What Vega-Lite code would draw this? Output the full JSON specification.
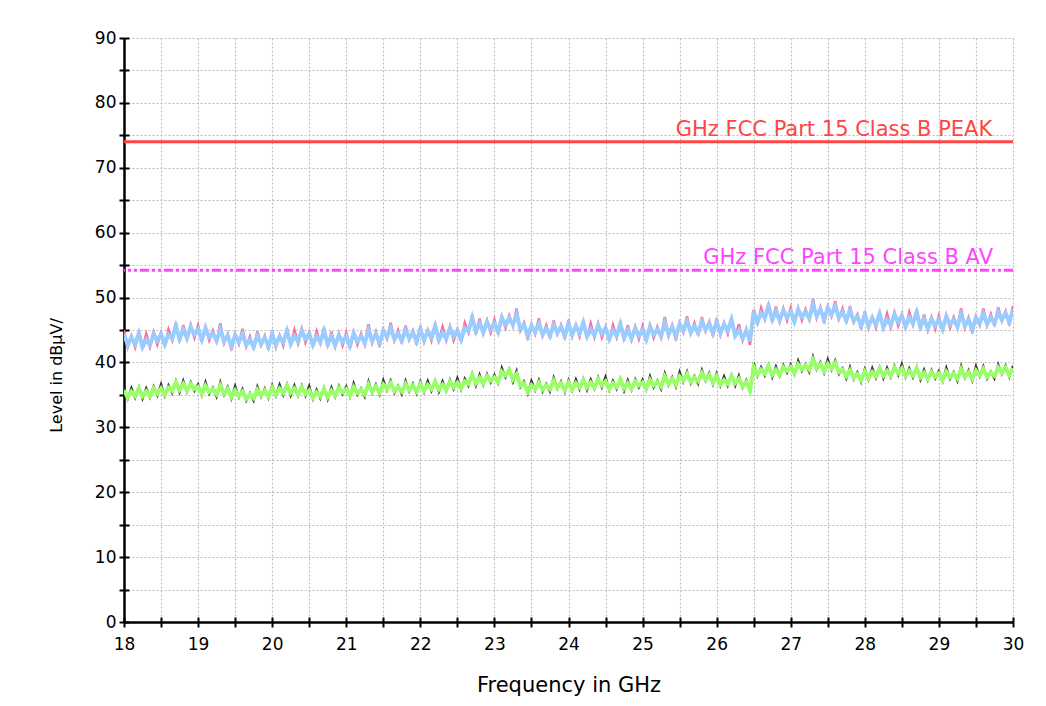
{
  "$schema": "https://vega.github.io/schema/vega-lite/v6.json",
  "width": 889,
  "height": 584,
  "autosize": {"type": "none"},
  "padding": {"left": 124, "top": 38, "right": 33, "bottom": 84},
  "background": "white",
  "config": {
    "view": {"stroke": null},
    "font": "DejaVu Sans"
  },
  "data": {"values": [
    {"f":18.00,"pk":45.0,"b":44.4,"dk":36.1,"g":35.7},
    {"f":18.05,"pk":42.35,"b":42.65,"dk":34.4,"g":34.6},
    {"f":18.10,"pk":44.1,"b":43.9,"dk":36.1,"g":35.5},
    {"f":18.15,"pk":42.35,"b":42.85,"dk":34.55,"g":34.85},
    {"f":18.20,"pk":44.9,"b":44.5,"dk":36.2,"g":36.0},
    {"f":18.25,"pk":42.15,"b":42.35,"dk":34.4,"g":34.8},
    {"f":18.30,"pk":44.4,"b":43.5,"dk":36.05,"g":35.55},
    {"f":18.35,"pk":42.4,"b":42.7,"dk":34.6,"g":34.8},
    {"f":18.40,"pk":44.7,"b":44.4,"dk":36.3,"g":36.0},
    {"f":18.45,"pk":42.75,"b":43.35,"dk":34.9,"g":35.2},
    {"f":18.50,"pk":44.55,"b":44.35,"dk":36.7,"g":36.0},
    {"f":18.55,"pk":42.5,"b":42.8,"dk":34.85,"g":35.05},
    {"f":18.60,"pk":45.1,"b":44.3,"dk":36.5,"g":36.1},
    {"f":18.65,"pk":43.45,"b":43.65,"dk":35.3,"g":35.6},
    {"f":18.70,"pk":46.1,"b":45.6,"dk":37.15,"g":36.95},
    {"f":18.75,"pk":43.2,"b":43.6,"dk":35.4,"g":35.8},
    {"f":18.80,"pk":45.75,"b":45.05,"dk":37.2,"g":36.7},
    {"f":18.85,"pk":43.6,"b":43.8,"dk":35.5,"g":35.7},
    {"f":18.90,"pk":45.8,"b":45.5,"dk":37.0,"g":36.7},
    {"f":18.95,"pk":43.8,"b":44.3,"dk":35.6,"g":35.9},
    {"f":19.00,"pk":45.7,"b":45.1,"dk":36.65,"g":36.25},
    {"f":19.05,"pk":43.2,"b":43.5,"dk":34.95,"g":35.15},
    {"f":19.10,"pk":45.5,"b":45.3,"dk":37.0,"g":36.4},
    {"f":19.15,"pk":43.4,"b":43.9,"dk":35.15,"g":35.45},
    {"f":19.20,"pk":44.9,"b":44.5,"dk":36.1,"g":35.9},
    {"f":19.25,"pk":43.1,"b":43.3,"dk":34.7,"g":35.1},
    {"f":19.30,"pk":46.05,"b":45.15,"dk":36.95,"g":36.45},
    {"f":19.35,"pk":42.95,"b":43.25,"dk":35.0,"g":35.2},
    {"f":19.40,"pk":44.4,"b":44.1,"dk":36.2,"g":35.9},
    {"f":19.45,"pk":41.9,"b":42.5,"dk":34.4,"g":34.7},
    {"f":19.50,"pk":44.4,"b":44.2,"dk":36.4,"g":35.7},
    {"f":19.55,"pk":42.85,"b":43.15,"dk":34.6,"g":34.8},
    {"f":19.60,"pk":45.2,"b":44.4,"dk":35.9,"g":35.5},
    {"f":19.65,"pk":42.45,"b":42.65,"dk":34.1,"g":34.4},
    {"f":19.70,"pk":44.0,"b":43.5,"dk":35.3,"g":35.1},
    {"f":19.75,"pk":42.0,"b":42.4,"dk":34.1,"g":34.5},
    {"f":19.80,"pk":44.8,"b":44.1,"dk":36.3,"g":35.8},
    {"f":19.85,"pk":42.65,"b":42.85,"dk":34.7,"g":34.9},
    {"f":19.90,"pk":44.1,"b":43.8,"dk":36.0,"g":35.7},
    {"f":19.95,"pk":41.95,"b":42.45,"dk":34.5,"g":34.8},
    {"f":20.00,"pk":44.9,"b":44.3,"dk":36.5,"g":36.1},
    {"f":20.05,"pk":42.35,"b":42.65,"dk":34.85,"g":35.05},
    {"f":20.10,"pk":44.2,"b":44.0,"dk":36.6,"g":36.0},
    {"f":20.15,"pk":42.6,"b":43.1,"dk":35.0,"g":35.3},
    {"f":20.20,"pk":45.25,"b":44.85,"dk":36.65,"g":36.45},
    {"f":20.25,"pk":42.65,"b":42.85,"dk":34.9,"g":35.3},
    {"f":20.30,"pk":45.0,"b":44.1,"dk":36.5,"g":36.0},
    {"f":20.35,"pk":42.95,"b":43.25,"dk":34.9,"g":35.1},
    {"f":20.40,"pk":45.2,"b":44.9,"dk":36.45,"g":36.15},
    {"f":20.45,"pk":43.05,"b":43.65,"dk":34.85,"g":35.15},
    {"f":20.50,"pk":44.65,"b":44.45,"dk":36.4,"g":35.7},
    {"f":20.55,"pk":42.4,"b":42.7,"dk":34.35,"g":34.55},
    {"f":20.60,"pk":44.8,"b":44.0,"dk":35.8,"g":35.4},
    {"f":20.65,"pk":42.95,"b":43.15,"dk":34.45,"g":34.75},
    {"f":20.70,"pk":45.4,"b":44.9,"dk":36.1,"g":35.9},
    {"f":20.75,"pk":42.4,"b":42.8,"dk":34.3,"g":34.7},
    {"f":20.80,"pk":44.75,"b":44.05,"dk":36.15,"g":35.65},
    {"f":20.85,"pk":42.45,"b":42.65,"dk":34.7,"g":34.9},
    {"f":20.90,"pk":44.5,"b":44.2,"dk":36.4,"g":36.1},
    {"f":20.95,"pk":42.6,"b":43.1,"dk":35.1,"g":35.4},
    {"f":21.00,"pk":44.6,"b":44.0,"dk":36.3,"g":35.9},
    {"f":21.05,"pk":42.25,"b":42.55,"dk":34.7,"g":34.9},
    {"f":21.10,"pk":44.7,"b":44.5,"dk":36.8,"g":36.2},
    {"f":21.15,"pk":42.75,"b":43.25,"dk":35.0,"g":35.3},
    {"f":21.20,"pk":44.4,"b":44.0,"dk":36.0,"g":35.8},
    {"f":21.25,"pk":42.75,"b":42.95,"dk":34.7,"g":35.1},
    {"f":21.30,"pk":45.9,"b":45.0,"dk":37.1,"g":36.6},
    {"f":21.35,"pk":43.0,"b":43.3,"dk":35.3,"g":35.5},
    {"f":21.40,"pk":44.7,"b":44.4,"dk":36.6,"g":36.3},
    {"f":21.45,"pk":42.4,"b":43.0,"dk":35.05,"g":35.35},
    {"f":21.50,"pk":45.05,"b":44.85,"dk":37.3,"g":36.6},
    {"f":21.55,"pk":43.65,"b":43.95,"dk":35.7,"g":35.9},
    {"f":21.60,"pk":46.1,"b":45.3,"dk":37.2,"g":36.8},
    {"f":21.65,"pk":43.4,"b":43.6,"dk":35.3,"g":35.6},
    {"f":21.70,"pk":44.95,"b":44.45,"dk":36.4,"g":36.2},
    {"f":21.75,"pk":42.95,"b":43.35,"dk":35.1,"g":35.5},
    {"f":21.80,"pk":45.7,"b":45.0,"dk":37.2,"g":36.7},
    {"f":21.85,"pk":43.5,"b":43.7,"dk":35.55,"g":35.75},
    {"f":21.90,"pk":44.9,"b":44.6,"dk":36.75,"g":36.45},
    {"f":21.95,"pk":42.75,"b":43.25,"dk":35.2,"g":35.5},
    {"f":22.00,"pk":45.7,"b":45.1,"dk":37.1,"g":36.7},
    {"f":22.05,"pk":43.15,"b":43.45,"dk":35.45,"g":35.65},
    {"f":22.10,"pk":45.0,"b":44.8,"dk":37.15,"g":36.55},
    {"f":22.15,"pk":43.35,"b":43.85,"dk":35.6,"g":35.9},
    {"f":22.20,"pk":46.0,"b":45.6,"dk":37.2,"g":37.0},
    {"f":22.25,"pk":43.25,"b":43.45,"dk":35.45,"g":35.85},
    {"f":22.30,"pk":45.5,"b":44.6,"dk":37.1,"g":36.6},
    {"f":22.35,"pk":43.4,"b":43.7,"dk":35.6,"g":35.8},
    {"f":22.40,"pk":45.55,"b":45.25,"dk":37.35,"g":37.05},
    {"f":22.45,"pk":43.4,"b":44.0,"dk":35.9,"g":36.2},
    {"f":22.50,"pk":45.1,"b":44.9,"dk":37.6,"g":36.9},
    {"f":22.55,"pk":43.2,"b":43.5,"dk":35.8,"g":36.0},
    {"f":22.60,"pk":46.1,"b":45.3,"dk":37.5,"g":37.1},
    {"f":22.65,"pk":44.6,"b":44.8,"dk":36.4,"g":36.7},
    {"f":22.70,"pk":47.4,"b":46.9,"dk":38.3,"g":38.1},
    {"f":22.75,"pk":44.4,"b":44.8,"dk":36.4,"g":36.8},
    {"f":22.80,"pk":46.75,"b":46.05,"dk":38.15,"g":37.65},
    {"f":22.85,"pk":44.45,"b":44.65,"dk":36.55,"g":36.75},
    {"f":22.90,"pk":46.5,"b":46.2,"dk":38.2,"g":37.9},
    {"f":22.95,"pk":44.6,"b":45.1,"dk":36.9,"g":37.2},
    {"f":23.00,"pk":46.6,"b":46.0,"dk":38.1,"g":37.7},
    {"f":23.05,"pk":44.4,"b":44.7,"dk":36.8,"g":37.0},
    {"f":23.10,"pk":47.1,"b":46.9,"dk":39.2,"g":38.6},
    {"f":23.15,"pk":45.3,"b":45.8,"dk":37.7,"g":38.0},
    {"f":23.20,"pk":47.2,"b":46.8,"dk":39.0,"g":38.8},
    {"f":23.25,"pk":45.6,"b":45.8,"dk":37.0,"g":37.4},
    {"f":23.30,"pk":48.3,"b":47.4,"dk":38.7,"g":38.2},
    {"f":23.35,"pk":44.9,"b":45.2,"dk":36.2,"g":36.4},
    {"f":23.40,"pk":46.1,"b":45.8,"dk":37.1,"g":36.8},
    {"f":23.45,"pk":43.5,"b":44.1,"dk":35.2,"g":35.5},
    {"f":23.50,"pk":45.9,"b":45.7,"dk":37.2,"g":36.5},
    {"f":23.55,"pk":44.4,"b":44.7,"dk":35.7,"g":35.9},
    {"f":23.60,"pk":46.8,"b":46.0,"dk":37.3,"g":36.9},
    {"f":23.65,"pk":44.1,"b":44.3,"dk":35.5,"g":35.8},
    {"f":23.70,"pk":45.7,"b":45.2,"dk":36.7,"g":36.5},
    {"f":23.75,"pk":43.7,"b":44.1,"dk":35.5,"g":35.9},
    {"f":23.80,"pk":46.5,"b":45.8,"dk":37.7,"g":37.2},
    {"f":23.85,"pk":44.35,"b":44.55,"dk":35.95,"g":36.15},
    {"f":23.90,"pk":45.8,"b":45.5,"dk":37.1,"g":36.8},
    {"f":23.95,"pk":43.6,"b":44.1,"dk":35.45,"g":35.75},
    {"f":24.00,"pk":46.55,"b":45.95,"dk":37.3,"g":36.9},
    {"f":24.05,"pk":44.0,"b":44.3,"dk":35.65,"g":35.85},
    {"f":24.10,"pk":45.8,"b":45.6,"dk":37.4,"g":36.8},
    {"f":24.15,"pk":44.0,"b":44.5,"dk":35.85,"g":36.15},
    {"f":24.20,"pk":46.55,"b":46.15,"dk":37.5,"g":37.3},
    {"f":24.25,"pk":43.8,"b":44.0,"dk":35.75,"g":36.15},
    {"f":24.30,"pk":46.0,"b":45.1,"dk":37.4,"g":36.9},
    {"f":24.35,"pk":43.85,"b":44.15,"dk":35.95,"g":36.15},
    {"f":24.40,"pk":46.0,"b":45.7,"dk":37.7,"g":37.4},
    {"f":24.45,"pk":43.85,"b":44.45,"dk":36.15,"g":36.45},
    {"f":24.50,"pk":45.5,"b":45.3,"dk":37.8,"g":37.1},
    {"f":24.55,"pk":43.3,"b":43.6,"dk":35.75,"g":35.95},
    {"f":24.60,"pk":45.75,"b":44.95,"dk":37.2,"g":36.8},
    {"f":24.65,"pk":43.9,"b":44.1,"dk":35.9,"g":36.2},
    {"f":24.70,"pk":46.4,"b":45.9,"dk":37.55,"g":37.35},
    {"f":24.75,"pk":43.4,"b":43.8,"dk":35.6,"g":36.0},
    {"f":24.80,"pk":45.75,"b":45.05,"dk":37.3,"g":36.8},
    {"f":24.85,"pk":43.45,"b":43.65,"dk":35.75,"g":35.95},
    {"f":24.90,"pk":45.5,"b":45.2,"dk":37.4,"g":37.1},
    {"f":24.95,"pk":43.6,"b":44.1,"dk":36.15,"g":36.45},
    {"f":25.00,"pk":45.6,"b":45.0,"dk":37.35,"g":36.95},
    {"f":25.05,"pk":43.25,"b":43.55,"dk":35.8,"g":36.0},
    {"f":25.10,"pk":45.75,"b":45.55,"dk":37.9,"g":37.3},
    {"f":25.15,"pk":43.8,"b":44.3,"dk":36.15,"g":36.45},
    {"f":25.20,"pk":45.5,"b":45.1,"dk":37.2,"g":37.0},
    {"f":25.25,"pk":43.85,"b":44.05,"dk":35.9,"g":36.3},
    {"f":25.30,"pk":47.0,"b":46.1,"dk":38.3,"g":37.8},
    {"f":25.35,"pk":44.05,"b":44.35,"dk":36.5,"g":36.7},
    {"f":25.40,"pk":45.75,"b":45.45,"dk":37.75,"g":37.45},
    {"f":25.45,"pk":43.4,"b":44.0,"dk":36.25,"g":36.55},
    {"f":25.50,"pk":46.1,"b":45.9,"dk":38.55,"g":37.85},
    {"f":25.55,"pk":44.65,"b":44.95,"dk":37.0,"g":37.2},
    {"f":25.60,"pk":47.1,"b":46.3,"dk":38.6,"g":38.2},
    {"f":25.65,"pk":44.45,"b":44.65,"dk":36.75,"g":37.05},
    {"f":25.70,"pk":46.1,"b":45.6,"dk":37.9,"g":37.7},
    {"f":25.75,"pk":44.15,"b":44.55,"dk":36.7,"g":37.1},
    {"f":25.80,"pk":47.0,"b":46.3,"dk":38.85,"g":38.35},
    {"f":25.85,"pk":44.85,"b":45.05,"dk":37.2,"g":37.4},
    {"f":25.90,"pk":46.3,"b":46.0,"dk":38.4,"g":38.1},
    {"f":25.95,"pk":44.0,"b":44.5,"dk":36.6,"g":36.9},
    {"f":26.00,"pk":46.8,"b":46.2,"dk":38.3,"g":37.9},
    {"f":26.05,"pk":44.25,"b":44.55,"dk":36.4,"g":36.6},
    {"f":26.10,"pk":46.1,"b":45.9,"dk":37.9,"g":37.3},
    {"f":26.15,"pk":44.4,"b":44.9,"dk":36.4,"g":36.7},
    {"f":26.20,"pk":47.0,"b":46.6,"dk":38.1,"g":37.9},
    {"f":26.25,"pk":43.9,"b":44.1,"dk":36.4,"g":36.8},
    {"f":26.30,"pk":45.9,"b":45.0,"dk":38.0,"g":37.5},
    {"f":26.35,"pk":43.4,"b":43.7,"dk":36.1,"g":36.3},
    {"f":26.40,"pk":45.2,"b":44.9,"dk":37.3,"g":37.0},
    {"f":26.45,"pk":42.7,"b":43.3,"dk":35.4,"g":35.7},
    {"f":26.50,"pk":48.1,"b":47.9,"dk":40.0,"g":39.3},
    {"f":26.55,"pk":45.9,"b":46.2,"dk":37.9,"g":38.1},
    {"f":26.60,"pk":48.4,"b":47.6,"dk":39.3,"g":38.9},
    {"f":26.65,"pk":46.65,"b":46.85,"dk":38.0,"g":38.3},
    {"f":26.70,"pk":49.15,"b":48.65,"dk":39.65,"g":39.45},
    {"f":26.75,"pk":46.2,"b":46.6,"dk":37.7,"g":38.1},
    {"f":26.80,"pk":48.6,"b":47.9,"dk":39.4,"g":38.9},
    {"f":26.85,"pk":46.3,"b":46.5,"dk":37.9,"g":38.1},
    {"f":26.90,"pk":48.35,"b":48.05,"dk":39.6,"g":39.3},
    {"f":26.95,"pk":46.45,"b":46.95,"dk":38.4,"g":38.7},
    {"f":27.00,"pk":48.4,"b":47.8,"dk":39.7,"g":39.3},
    {"f":27.05,"pk":46.0,"b":46.3,"dk":38.15,"g":38.35},
    {"f":27.10,"pk":48.4,"b":48.2,"dk":40.3,"g":39.7},
    {"f":27.15,"pk":46.5,"b":47.0,"dk":38.65,"g":38.95},
    {"f":27.20,"pk":48.2,"b":47.8,"dk":39.8,"g":39.6},
    {"f":27.25,"pk":46.6,"b":46.8,"dk":38.5,"g":38.9},
    {"f":27.30,"pk":49.8,"b":48.9,"dk":40.9,"g":40.4},
    {"f":27.35,"pk":46.85,"b":47.15,"dk":38.9,"g":39.1},
    {"f":27.40,"pk":48.5,"b":48.2,"dk":40.05,"g":39.75},
    {"f":27.45,"pk":46.05,"b":46.65,"dk":38.4,"g":38.7},
    {"f":27.50,"pk":48.6,"b":48.4,"dk":40.5,"g":39.8},
    {"f":27.55,"pk":47.1,"b":47.4,"dk":38.85,"g":39.05},
    {"f":27.60,"pk":49.45,"b":48.65,"dk":40.3,"g":39.9},
    {"f":27.65,"pk":46.7,"b":46.9,"dk":38.2,"g":38.5},
    {"f":27.70,"pk":48.3,"b":47.8,"dk":39.1,"g":38.9},
    {"f":27.75,"pk":46.1,"b":46.5,"dk":37.5,"g":37.9},
    {"f":27.80,"pk":48.7,"b":48.0,"dk":39.3,"g":38.8},
    {"f":27.85,"pk":46.2,"b":46.4,"dk":37.4,"g":37.6},
    {"f":27.90,"pk":47.4,"b":47.1,"dk":38.5,"g":38.2},
    {"f":27.95,"pk":45.1,"b":45.6,"dk":37.0,"g":37.3},
    {"f":28.00,"pk":47.9,"b":47.3,"dk":39.0,"g":38.6},
    {"f":28.05,"pk":45.3,"b":45.6,"dk":37.35,"g":37.55},
    {"f":28.10,"pk":47.05,"b":46.85,"dk":39.15,"g":38.55},
    {"f":28.15,"pk":45.35,"b":45.85,"dk":37.6,"g":37.9},
    {"f":28.20,"pk":47.9,"b":47.5,"dk":39.3,"g":39.1},
    {"f":28.25,"pk":45.2,"b":45.4,"dk":37.55,"g":37.95},
    {"f":28.30,"pk":47.5,"b":46.6,"dk":39.2,"g":38.7},
    {"f":28.35,"pk":45.45,"b":45.75,"dk":37.75,"g":37.95},
    {"f":28.40,"pk":47.7,"b":47.4,"dk":39.5,"g":39.2},
    {"f":28.45,"pk":45.65,"b":46.25,"dk":38.05,"g":38.35},
    {"f":28.50,"pk":47.4,"b":47.2,"dk":39.8,"g":39.1},
    {"f":28.55,"pk":45.2,"b":45.5,"dk":37.7,"g":37.9},
    {"f":28.60,"pk":47.7,"b":46.9,"dk":39.1,"g":38.7},
    {"f":28.65,"pk":45.8,"b":46.0,"dk":37.7,"g":38.0},
    {"f":28.70,"pk":48.2,"b":47.7,"dk":39.3,"g":39.1},
    {"f":28.75,"pk":45.1,"b":45.5,"dk":37.3,"g":37.7},
    {"f":28.80,"pk":47.4,"b":46.7,"dk":38.9,"g":38.4},
    {"f":28.85,"pk":45.0,"b":45.2,"dk":37.25,"g":37.45},
    {"f":28.90,"pk":47.0,"b":46.7,"dk":38.85,"g":38.55},
    {"f":28.95,"pk":45.15,"b":45.65,"dk":37.5,"g":37.8},
    {"f":29.00,"pk":47.2,"b":46.6,"dk":38.7,"g":38.3},
    {"f":29.05,"pk":44.85,"b":45.15,"dk":37.1,"g":37.3},
    {"f":29.10,"pk":47.3,"b":47.1,"dk":39.2,"g":38.6},
    {"f":29.15,"pk":45.35,"b":45.85,"dk":37.45,"g":37.75},
    {"f":29.20,"pk":47.0,"b":46.6,"dk":38.5,"g":38.3},
    {"f":29.25,"pk":45.3,"b":45.5,"dk":37.1,"g":37.5},
    {"f":29.30,"pk":48.35,"b":47.45,"dk":39.45,"g":38.95},
    {"f":29.35,"pk":45.35,"b":45.65,"dk":37.6,"g":37.8},
    {"f":29.40,"pk":46.9,"b":46.6,"dk":38.8,"g":38.5},
    {"f":29.45,"pk":44.5,"b":45.1,"dk":37.2,"g":37.5},
    {"f":29.50,"pk":47.1,"b":46.9,"dk":39.45,"g":38.75},
    {"f":29.55,"pk":45.75,"b":46.05,"dk":37.85,"g":38.05},
    {"f":29.60,"pk":48.3,"b":47.5,"dk":39.4,"g":39.0},
    {"f":29.65,"pk":45.7,"b":45.9,"dk":37.5,"g":37.8},
    {"f":29.70,"pk":47.45,"b":46.95,"dk":38.6,"g":38.4},
    {"f":29.75,"pk":45.6,"b":46.0,"dk":37.5,"g":37.9},
    {"f":29.80,"pk":48.5,"b":47.8,"dk":39.7,"g":39.2},
    {"f":29.85,"pk":46.4,"b":46.6,"dk":38.2,"g":38.4},
    {"f":29.90,"pk":47.9,"b":47.6,"dk":39.5,"g":39.2},
    {"f":29.95,"pk":45.75,"b":46.25,"dk":37.75,"g":38.05},
    {"f":30.00,"pk":48.7,"b":48.1,"dk":39.5,"g":39.1}
  ]},
  "resolve": {"axis": {"x": "independent", "y": "independent"}},
  "layer": [
    {
      "mark": {"type": "line", "color": "#ff6a9a", "strokeWidth": 2.5, "clip": true},
      "encoding": {
        "x": {
          "field": "f", "type": "quantitative",
          "scale": {"domain": [18, 30], "nice": false, "zero": false},
          "axis": {
            "orient": "bottom",
            "values": [18,18.5,19,19.5,20,20.5,21,21.5,22,22.5,23,23.5,24,24.5,25,25.5,26,26.5,27,27.5,28,28.5,29,29.5,30],
            "labelExpr": "datum.value % 1 === 0 ? format(datum.value, 'd') : ''",
            "labelFont": "DejaVu Sans", "labelFontSize": 17, "labelColor": "#000000",
            "labelPadding": 9, "labelFlush": false, "labelOverlap": false,
            "tickSize": 5, "tickWidth": 2, "tickColor": "#000000",
            "domainColor": "#000000", "domainWidth": 2.5,
            "grid": true, "gridDash": [2, 2], "gridColor": "#bdbdbd", "gridWidth": 1.2,
            "title": "Frequency in GHz",
            "titleFont": "DejaVu Sans", "titleFontSize": 21, "titleFontWeight": "normal",
            "titleColor": "#000000", "titlePadding": 22
          }
        },
        "y": {
          "field": "pk", "type": "quantitative",
          "scale": {"domain": [0, 90], "nice": false},
          "axis": {
            "orient": "left",
            "values": [0,5,10,15,20,25,30,35,40,45,50,55,60,65,70,75,80,85,90],
            "labelExpr": "datum.value % 10 === 0 ? format(datum.value, 'd') : ''",
            "labelFont": "DejaVu Sans", "labelFontSize": 17, "labelColor": "#000000",
            "labelPadding": 3, "labelFlush": false, "labelOverlap": false,
            "tickSize": 5, "tickWidth": 2, "tickColor": "#000000",
            "domainColor": "#000000", "domainWidth": 2.5,
            "grid": true, "gridDash": [2, 2], "gridColor": "#bdbdbd", "gridWidth": 1.2,
            "title": "Level in dBµV/",
            "titleFont": "DejaVu Sans", "titleFontSize": 16, "titleFontWeight": "normal",
            "titleColor": "#000000", "titleX": -60, "titleY": 337, "titleAngle": -90
          }
        }
      }
    },
    {
      "mark": {"type": "line", "color": "#99ccff", "strokeWidth": 4, "clip": true},
      "encoding": {
        "x": {
          "field": "f", "type": "quantitative",
          "axis": {
            "orient": "bottom",
            "values": [18,18.5,19,19.5,20,20.5,21,21.5,22,22.5,23,23.5,24,24.5,25,25.5,26,26.5,27,27.5,28,28.5,29,29.5,30],
            "labels": false, "domain": false, "grid": false,
            "tickSize": -5, "tickWidth": 2, "tickColor": "#000000", "title": null
          }
        },
        "y": {
          "field": "b", "type": "quantitative",
          "axis": {
            "orient": "left",
            "values": [0,5,10,15,20,25,30,35,40,45,50,55,60,65,70,75,80,85,90],
            "labels": false, "domain": false, "grid": false,
            "tickSize": -5, "tickWidth": 2, "tickColor": "#000000", "title": null
          }
        }
      }
    },
    {
      "mark": {"type": "line", "color": "#333333", "strokeWidth": 2.2, "clip": true},
      "encoding": {
        "x": {"field": "f", "type": "quantitative", "axis": null},
        "y": {"field": "dk", "type": "quantitative", "axis": null}
      }
    },
    {
      "mark": {"type": "line", "color": "#99ff66", "strokeWidth": 4, "clip": true},
      "encoding": {
        "x": {"field": "f", "type": "quantitative", "axis": null},
        "y": {"field": "g", "type": "quantitative", "axis": null}
      }
    },
    {
      "data": {"values": [{"level": 74, "f": 29.72, "label": "GHz FCC Part 15 Class B PEAK"}]},
      "mark": {"type": "rule", "color": "#ff4444", "strokeWidth": 3},
      "encoding": {
        "y": {"field": "level", "type": "quantitative", "axis": null}
      }
    },
    {
      "data": {"values": [{"level": 74, "f": 29.72, "label": "GHz FCC Part 15 Class B PEAK"}]},
      "mark": {"type": "text", "color": "#ff4444", "align": "right", "baseline": "alphabetic", "dy": -6, "font": "DejaVu Sans", "fontSize": 21},
      "encoding": {
        "x": {"field": "f", "type": "quantitative", "axis": null},
        "y": {"field": "level", "type": "quantitative", "axis": null},
        "text": {"field": "label"}
      }
    },
    {
      "data": {"values": [{"level": 54.2, "f": 29.73, "label": "GHz FCC Part 15 Class B AV"}]},
      "mark": {"type": "rule", "color": "#ff44ff", "strokeWidth": 3, "strokeDash": [9, 3, 3, 3, 3, 3]},
      "encoding": {
        "y": {"field": "level", "type": "quantitative", "axis": null}
      }
    },
    {
      "data": {"values": [{"level": 54.2, "f": 29.73, "label": "GHz FCC Part 15 Class B AV"}]},
      "mark": {"type": "text", "color": "#ff44ff", "align": "right", "baseline": "alphabetic", "dy": -6, "font": "DejaVu Sans", "fontSize": 21},
      "encoding": {
        "x": {"field": "f", "type": "quantitative", "axis": null},
        "y": {"field": "level", "type": "quantitative", "axis": null},
        "text": {"field": "label"}
      }
    }
  ]
}
